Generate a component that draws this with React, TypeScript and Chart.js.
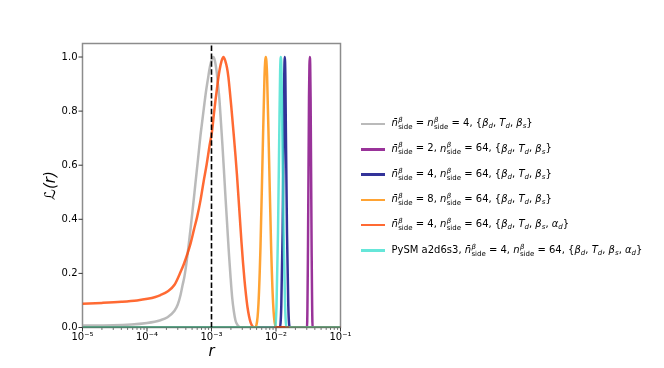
import React, { useEffect, useRef } from 'react';
import { Chart, registerables } from 'chart.js';

Chart.register(...registerables);

// ---------- data (r values and likelihood values) ----------
const grayR = [1e-5, 3e-5, 1e-4, 1.62e-4, 2.08e-4, 2.67e-4, 3.0e-4, 3.31e-4, 3.55e-4, 3.815e-4, 4.1e-4, 4.399e-4, 4.73e-4, 5.074e-4, 5.45e-4, 5.852e-4, 6.29e-4, 6.75e-4, 7.25e-4, 7.788e-4, 8.3e-4, 8.82e-4, 9.3e-4, 9.82e-4, 1.025e-3, 1.074e-3, 1.13e-3, 1.196e-3, 1.26e-3, 1.33e-3, 1.4e-3, 1.481e-3, 1.56e-3, 1.649e-3, 1.75e-3, 1.855e-3, 1.97e-3, 2.094e-3, 2.22e-3, 2.355e-3, 2.52e-3, 2.717e-3, 3.0e-3, 1e-1];
const grayL = [0.007, 0.008, 0.017, 0.027, 0.038, 0.062, 0.085, 0.12, 0.155, 0.19, 0.24, 0.3, 0.365, 0.43, 0.5, 0.57, 0.64, 0.71, 0.77, 0.83, 0.88, 0.92, 0.955, 0.98, 0.995, 1.0, 0.985, 0.95, 0.9, 0.84, 0.76, 0.67, 0.58, 0.48, 0.38, 0.28, 0.19, 0.11, 0.06, 0.026, 0.01, 0.002, 0, 0];

const purpleR = [1e-5, 3.024e-2, 3.134e-2, 3.248e-2, 3.3e-2, 3.342e-2, 3.39e-2, 3.439e-2, 3.564e-2, 3.694e-2, 1e-1];
const purpleL = [0, 0, 0.3, 0.85, 0.97, 1.0, 0.97, 0.85, 0.3, 0, 0];

const navyR = [1e-5, 1.145e-2, 1.208e-2, 1.266e-2, 1.316e-2, 1.342e-2, 1.369e-2, 1.396e-2, 1.424e-2, 1.481e-2, 1.551e-2, 1.637e-2, 1e-1];
const navyL = [0, 0, 0.08, 0.35, 0.72, 0.93, 1.0, 0.93, 0.72, 0.35, 0.08, 0, 0];

const orangeR = [1e-5, 4.64e-3, 4.985e-3, 5.355e-3, 5.75e-3, 6.177e-3, 6.634e-3, 6.8e-3, 6.95e-3, 7.1e-3, 7.278e-3, 7.816e-3, 8.395e-3, 9.016e-3, 9.683e-3, 1.04e-2, 1e-1];
const orangeL = [0, 0, 0.01, 0.09, 0.3, 0.62, 0.93, 0.985, 1.0, 0.985, 0.93, 0.62, 0.3, 0.09, 0.01, 0, 0];

const coralR = [1e-5, 2e-5, 4e-5, 7e-5, 1.02e-4, 1.35e-4, 1.62e-4, 2.08e-4, 2.67e-4, 3.31e-4, 3.73e-4, 4.2e-4, 4.73e-4, 5.32e-4, 6.0e-4, 6.75e-4, 7.55e-4, 8.37e-4, 9.3e-4, 1.025e-3, 1.09e-3, 1.153e-3, 1.24e-3, 1.33e-3, 1.43e-3, 1.535e-3, 1.64e-3, 1.739e-3, 1.83e-3, 1.922e-3, 2.02e-3, 2.117e-3, 2.235e-3, 2.355e-3, 2.48e-3, 2.622e-3, 2.77e-3, 2.918e-3, 3.08e-3, 3.248e-3, 3.43e-3, 3.615e-3, 3.82e-3, 4.024e-3, 4.25e-3, 4.479e-3, 4.75e-3, 1e-1];
const coralL = [0.088, 0.091, 0.095, 0.1, 0.106, 0.113, 0.12, 0.133, 0.158, 0.205, 0.235, 0.27, 0.31, 0.36, 0.41, 0.47, 0.54, 0.6, 0.67, 0.73, 0.79, 0.84, 0.9, 0.95, 0.985, 1.0, 0.985, 0.96, 0.925, 0.875, 0.82, 0.765, 0.7, 0.635, 0.565, 0.48, 0.395, 0.315, 0.24, 0.175, 0.12, 0.075, 0.042, 0.02, 0.007, 0.001, 0, 0];

const turqR = [1e-5, 9.65e-3, 1.018e-2, 1.074e-2, 1.133e-2, 1.16e-2, 1.187e-2, 1.215e-2, 1.244e-2, 1.312e-2, 1.384e-2, 1.46e-2, 1e-1];
const turqL = [0, 0, 0.08, 0.35, 0.78, 0.95, 1.0, 0.95, 0.78, 0.35, 0.08, 0, 0];

const greenR = [1e-5, 1e-1];
const greenL = [0, 0];
const redR = [9.3e-3, 1.6e-2];
const redL = [0, 0];

const rTrue = [1e-3, 1e-3];
const rTrueL = [0, 1.05];

// ---------- ticks ----------
const xTickValues = [1e-5, 1e-4, 1e-3, 1e-2, 1e-1];
const xTickLabels = ['10\u207B\u2075', '10\u207B\u2074', '10\u207B\u00B3', '10\u207B\u00B2', '10\u207B\u00B9'];
const yTickValues = [0, 0.2, 0.4, 0.6, 0.8, 1.0];
const yTickLabels = ['0.0', '0.2', '0.4', '0.6', '0.8', '1.0'];
const minorMultipliers = [2, 3, 4, 5, 6, 7, 8, 9];

// ---------- legend ----------
const seriesColors = [
  'rgba(169,169,169,0.8)',
  'rgba(128,0,128,0.8)',
  'rgba(0,0,128,0.8)',
  'rgba(255,140,0,0.8)',
  'rgba(255,69,0,0.8)',
  'rgba(64,224,208,0.8)',
];
const legendPrefix = ['', '', '', '', '', 'PySM a2d6s3, '];
const legendNBar: (number | null)[] = [null, 2, 4, 8, 4, 4];
const legendN = [4, 64, 64, 64, 64, 64];
const legendParams = [
  [['β', 'd'], ['T', 'd'], ['β', 's']],
  [['β', 'd'], ['T', 'd'], ['β', 's']],
  [['β', 'd'], ['T', 'd'], ['β', 's']],
  [['β', 'd'], ['T', 'd'], ['β', 's']],
  [['β', 'd'], ['T', 'd'], ['β', 's'], ['α', 'd']],
  [['β', 'd'], ['T', 'd'], ['β', 's'], ['α', 'd']],
];

const FONT = "'DejaVu Sans', sans-serif";
const LW = 2.5;

const zip = (xs: number[], ys: number[]) => xs.map((x, i) => ({ x, y: ys[i] }));

const framePlugin = {
  id: 'frameTicks',
  beforeDatasetsDraw(chart: any) {
    const { ctx, chartArea: a, scales } = chart;
    ctx.save();
    ctx.strokeStyle = '#8c8c8c';
    ctx.lineWidth = 1.5;
    ctx.strokeRect(a.left, a.top, a.right - a.left, a.bottom - a.top);
    ctx.strokeStyle = '#222';
    const line = (x1: number, y1: number, x2: number, y2: number) => {
      ctx.beginPath();
      ctx.moveTo(x1, y1);
      ctx.lineTo(x2, y2);
      ctx.stroke();
    };
    ctx.lineWidth = 0.9;
    xTickValues.forEach((v) => {
      const px = scales.x.getPixelForValue(v);
      line(px, a.bottom, px, a.bottom + 4);
    });
    ctx.lineWidth = 0.6;
    for (let i = 0; i < xTickValues.length - 1; i++) {
      minorMultipliers.forEach((m) => {
        const px = scales.x.getPixelForValue(xTickValues[i] * m);
        line(px, a.bottom, px, a.bottom + 2.5);
      });
    }
    ctx.lineWidth = 0.9;
    yTickValues.forEach((v) => {
      const py = scales.y.getPixelForValue(v);
      line(a.left - 4, py, a.left, py);
    });
    ctx.restore();
  },
};

function NSym({ bar }: { bar: boolean }) {
  return (
    <span style={{ whiteSpace: 'nowrap' }}>
      <i>{bar ? 'n\u0304' : 'n'}</i>
      <span
        style={{
          display: 'inline-block',
          fontSize: '0.7em',
          lineHeight: 1,
          verticalAlign: '-0.4em',
          marginLeft: '0.05em',
        }}
      >
        <i style={{ display: 'block' }}>β</i>
        <span style={{ display: 'block' }}>side</span>
      </span>
    </span>
  );
}

function Param({ p }: { p: string[] }) {
  return (
    <span>
      <i>{p[0]}</i>
      <i style={{ fontSize: '0.7em', verticalAlign: '-0.25em' }}>{p[1]}</i>
    </span>
  );
}

function LegendText({ i }: { i: number }) {
  const params = legendParams[i];
  const nb = legendNBar[i];
  return (
    <span style={{ whiteSpace: 'nowrap' }}>
      {legendPrefix[i]}
      <NSym bar={true} />
      {nb === null ? ' = ' : ` = ${nb}, `}
      <NSym bar={false} />
      {` = ${legendN[i]}, {`}
      {params.map((p, k) => (
        <React.Fragment key={k}>
          {k > 0 ? ', ' : ''}
          <Param p={p} />
        </React.Fragment>
      ))}
      {'}'}
    </span>
  );
}

export default function App() {
  const ref = useRef<HTMLCanvasElement | null>(null);

  useEffect(() => {
    if (!ref.current) return;
    const mk = (data: any[], color: string, width: number, order: number, extra: any = {}) => ({
      data,
      borderColor: color,
      backgroundColor: color,
      borderWidth: width,
      pointRadius: 0,
      fill: false,
      cubicInterpolationMode: 'monotone',
      order,
      ...extra,
    });
    const chart = new Chart(ref.current, {
      type: 'line',
      data: {
        datasets: [
          mk(zip(grayR, grayL), seriesColors[0], LW, 9),
          mk(zip(purpleR, purpleL), seriesColors[1], LW, 8),
          mk(zip(navyR, navyL), seriesColors[2], LW, 7),
          mk(zip(orangeR, orangeL), seriesColors[3], LW, 6),
          mk(zip(coralR, coralL), seriesColors[4], LW, 5),
          mk(zip(turqR, turqL), seriesColors[5], LW, 4),
          mk(zip(greenR, greenL), '#2e7d5b', 1.5, 3),
          mk(zip(redR, redL), 'rgba(200,40,20,0.9)', 2, 2),
          mk(zip(rTrue, rTrueL), '#000', 1.6, 1, { borderDash: [5.5, 2.4], cubicInterpolationMode: 'default' }),
        ],
      },
      options: {
        responsive: false,
        animation: false,
        devicePixelRatio: 1,
        layout: { padding: { left: 0, right: 323.5, top: 43.5, bottom: 0 } },
        plugins: { legend: { display: false }, tooltip: { enabled: false } },
        scales: {
          x: {
            type: 'logarithmic',
            min: 1e-5,
            max: 1e-1,
            afterBuildTicks: (s: any) => {
              s.ticks = xTickValues.map((v) => ({ value: v }));
            },
            afterFit: (s: any) => {
              s.height = 40.5;
            },
            ticks: {
              callback: (_v: any, i: number) => xTickLabels[i],
              autoSkip: false,
              maxRotation: 0,
              padding: 4,
              color: '#000',
              font: { family: FONT, size: 10 },
            },
            grid: { display: false, drawTicks: false },
            border: { display: false },
            title: {
              display: true,
              text: 'r',
              color: '#000',
              font: { family: FONT, size: 15, style: 'italic' },
              padding: { top: 0, bottom: 7 },
            },
          },
          y: {
            type: 'linear',
            min: 0,
            max: 1.05,
            afterBuildTicks: (s: any) => {
              s.ticks = yTickValues.map((v) => ({ value: v }));
            },
            afterFit: (s: any) => {
              s.width = 82.5;
            },
            ticks: {
              callback: (_v: any, i: number) => yTickLabels[i],
              padding: 5,
              color: '#000',
              font: { family: FONT, size: 10 },
            },
            grid: { display: false, drawTicks: false },
            border: { display: false },
            title: {
              display: true,
              text: 'ℒ(r)',
              color: '#000',
              font: { family: FONT, size: 15, style: 'italic' },
              padding: { top: 42, bottom: 0 },
            },
          },
        },
      } as any,
      plugins: [framePlugin],
    });
    return () => chart.destroy();
  }, []);

  return (
    <div
      style={{
        position: 'absolute',
        left: 0,
        top: 0,
        width: 664,
        height: 368,
        background: '#fff',
        fontFamily: FONT,
      }}
    >
      <canvas ref={ref} width={664} height={368} style={{ position: 'absolute', left: 0, top: 0 }} />
      {seriesColors.map((c, i) => (
        <div
          key={i}
          style={{
            position: 'absolute',
            left: 361,
            top: 124 + 25.3 * i - 12,
            height: 24,
            display: 'flex',
            alignItems: 'center',
            fontSize: 10,
            color: '#000',
          }}
        >
          <div style={{ width: 24, height: 2.5, background: c, marginRight: 6.5, flex: 'none' }} />
          <LegendText i={i} />
        </div>
      ))}
    </div>
  );
}
